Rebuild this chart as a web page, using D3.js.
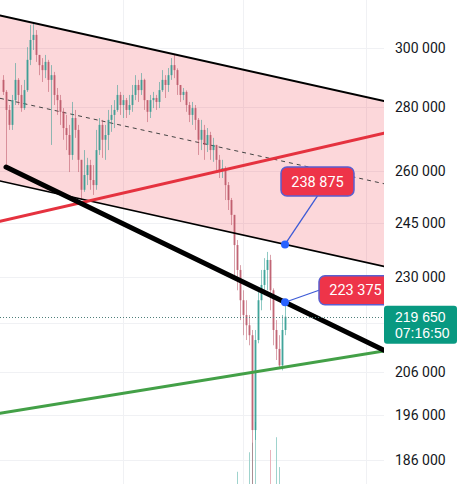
<!DOCTYPE html>
<html>
<head>
<meta charset="utf-8">
<script src="https://cdn.jsdelivr.net/npm/d3@7/dist/d3.min.js"></script>
<style>
    body { margin: 0; background: #fff; }
    svg { display: block; font-family: Roboto, "Noto Sans", sans-serif; }
</style>
</head>
<body>
<div id="graph-placeholder"></div>
<script>

// candles in thousands, open of each candle = close of previous one
var firstOpen = 289.1;
var closes = [285.1, 279.2, 274.4, 282.4, 289.1, 284.1, 279.8, 285.7, 295.9, 302.8,
    304.6, 297.6, 294.1, 292.4, 295.2, 289.1, 290.7, 284.1, 282.4, 278.6,
    273.4, 271.2, 265.0, 276.6, 272.8, 263.5, 254.5, 258.9, 261.9, 257.4,
    255.9, 266.5, 274.4, 269.7, 271.2, 276.0, 277.6, 279.2, 284.1, 280.8,
    282.4, 279.2, 280.8, 284.1, 287.4, 285.7, 289.1, 282.4, 278.6, 282.4,
    283.1, 281.8, 285.7, 289.1, 287.4, 290.7, 294.1, 292.4, 287.4, 284.1,
    285.1, 280.8, 277.6, 279.8, 276.0, 269.7, 272.8, 268.1, 271.2, 266.5,
    268.1, 263.5, 260.4, 261.0, 255.9, 251.5, 247.2, 238.7, 231.9, 223.9,
    220.1, 217.5, 215.0, 192.6, 213.8, 223.9, 227.9, 231.9, 234.6, 226.5,
    216.3, 211.6, 207.6, 216.3, 219.65];
var highs = [290.7, 285.7, 280.8, 284.1, 294.8, 289.7, 287.4, 289.1, 300.3, 308.1,
    309.2, 306.3, 297.6, 296.5, 297.6, 295.9, 294.1, 291.8, 286.4, 284.1,
    279.8, 277.6, 274.4, 281.8, 279.2, 274.4, 263.5, 266.5, 264.1, 263.5,
    261.9, 272.8, 276.6, 276.0, 274.4, 279.2, 280.8, 282.4, 287.4, 285.1,
    284.1, 283.1, 284.1, 287.4, 290.7, 289.1, 291.4, 289.5, 282.4, 284.1,
    285.1, 284.1, 288.4, 292.4, 290.7, 293.1, 296.5, 297.6, 293.0, 287.4,
    286.4, 285.6, 281.8, 281.8, 280.8, 276.6, 276.0, 274.4, 273.4, 272.2,
    270.3, 268.1, 265.0, 263.5, 261.5, 256.8, 252.1, 247.2, 240.1, 233.2,
    226.5, 223.9, 220.1, 216.3, 216.3, 226.5, 231.9, 235.1, 236.8, 236.0,
    227.0, 218.8, 215.0, 220.1, 222.6];
var lows = [284.1, 261.3, 272.8, 272.8, 280.8, 280.8, 278.6, 279.2, 285.1, 294.1,
    299.3, 295.2, 290.7, 288.4, 289.7, 285.1, 268.1, 280.8, 277.6, 274.4,
    269.7, 266.5, 259.8, 263.5, 270.3, 259.8, 251.5, 253.9, 255.9, 254.5,
    253.0, 254.5, 265.0, 264.1, 263.5, 266.5, 272.2, 273.4, 278.6, 277.6,
    276.6, 276.6, 277.6, 278.6, 282.4, 281.8, 284.1, 279.2, 275.3, 276.6,
    279.8, 279.2, 279.8, 285.1, 283.1, 285.1, 289.1, 289.7, 284.1, 281.8,
    282.4, 278.6, 275.3, 274.4, 272.8, 265.0, 266.5, 263.5, 265.9, 263.5,
    262.9, 260.4, 258.0, 258.0, 251.5, 248.6, 244.3, 230.5, 226.5, 218.8,
    215.0, 213.8, 212.5, 180.9, 190.4, 213.0, 221.3, 225.2, 226.5, 221.3,
    212.5, 208.9, 206.9, 206.4, 215.0];

// faint wicks near the bottom: [candle index, top price, 1 = up colour]
var faintWicks = [[78, 183500, 1], [82, 187700, 1], [83, 189800, 1], [84, 194400, 1],
    [89, 188200, 0], [91, 191000, 1], [92, 184500, 1]];

// 218 000 sits under the last price badge: grid line only
var gridTicks = [186000, 196000, 206000, 218000, 230000, 245000, 260000, 280000, 300000];
var labelTicks = [186000, 196000, 206000, 230000, 245000, 260000, 280000, 300000];
var gridIndexes = [40, 80, 121];
var lastPrice = 219650, lastTime = "07:16:50";

// drawings: two anchor points [candle index, price]
var channelTop = [[-1, 311500], [127, 282100]];
var channelBottom = [[-1, 257100], [94, 238875]];
var redLine = [[-1, 245400], [127, 271800]];
var greenLine = [[-1, 196400], [127, 211100]];
var boldLine = [[1, 261300], [94, 223375]];

var priceLabels = [
    {index: 94, value: 238875, dx: 32.5, dy: -63, attach: "bottom"},
    {index: 94, value: 223375, dx: 70.5, dy: -12, attach: "left"}
];

var width = 461, height = 484,
    plotWidth = 384;

var xScale = d3.scaleLinear().domain([-1, 127]).range([0, plotWidth]);
var yScale = d3.scaleLog().domain([300000, 186000]).range([48, 460.1]);

var fmt = function (v) { return d3.format(",")(v).replace(/,/g, " "); };

var svg = d3.select("#graph-placeholder")
    .append("svg")
    .attr("width", width)
    .attr("height", height);

svg.append("defs").append("clipPath")
    .attr("id", "plotMask")
    .append("rect")
    .attr("x", 0).attr("y", 0)
    .attr("width", plotWidth).attr("height", height);

var plot = svg.append("g").attr("clip-path", "url(#plotMask)");

// grid
plot.selectAll(".hgrid")
    .data(gridTicks)
    .enter().append("line")
    .attr("x1", 0).attr("x2", plotWidth)
    .attr("y1", function (d) { return Math.round(yScale(d)) + 0.5; })
    .attr("y2", function (d) { return Math.round(yScale(d)) + 0.5; })
    .attr("stroke", "#f0f1f4");

plot.selectAll(".vgrid")
    .data(gridIndexes)
    .enter().append("line")
    .attr("x1", function (d) { return Math.round(xScale(d)) + 0.5; })
    .attr("x2", function (d) { return Math.round(xScale(d)) + 0.5; })
    .attr("y1", 0).attr("y2", height)
    .attr("stroke", "#f0f1f4");

// turn two anchors into a pixel segment stretched from xFrom to xTo
var segment = function (pts, xFrom, xTo) {
    var x0 = xScale(pts[0][0]), y0 = yScale(pts[0][1]),
        x1 = xScale(pts[1][0]), y1 = yScale(pts[1][1]),
        k = (y1 - y0) / (x1 - x0);
    var a = xFrom === undefined ? x0 : xFrom;
    return [[a, y0 + k * (a - x0)], [xTo, y0 + k * (xTo - x0)]];
};

var top_ = segment(channelTop, 0, plotWidth),
    bottom_ = segment(channelBottom, 0, plotWidth),
    middle_ = [
        [0, (top_[0][1] + bottom_[0][1]) / 2],
        [plotWidth, (top_[1][1] + bottom_[1][1]) / 2]
    ];

// channel fill
plot.append("path")
    .attr("d", d3.line()([top_[0], top_[1], bottom_[1], bottom_[0]]) + "Z")
    .attr("fill", "rgba(242,54,69,0.2)");

plot.append("path")
    .attr("d", d3.line()(middle_))
    .attr("stroke", "#444")
    .attr("stroke-width", 1)
    .attr("stroke-dasharray", "4,4")
    .attr("fill", "none");

// candles
var candles = closes.map(function (c, i) {
    var o = i === 0 ? firstOpen : closes[i - 1];
    return {
        i: i, o: o * 1000, c: c * 1000,
        h: Math.max(highs[i], o, c) * 1000,
        l: Math.min(lows[i], o, c) * 1000
    };
});
var upColor = "#1f968a", downColor = "#b64a5c";

plot.selectAll(".faint")
    .data(faintWicks)
    .enter().append("line")
    .attr("x1", function (d) { return Math.round(xScale(d[0])) + 0.5; })
    .attr("x2", function (d) { return Math.round(xScale(d[0])) + 0.5; })
    .attr("y1", function (d) { return yScale(d[1]); })
    .attr("y2", height)
    .attr("stroke", function (d) { return d[2] ? "#9fd3cd" : "#eab3bb"; })
    .attr("stroke-width", 1);

plot.selectAll(".wick")
    .data(candles)
    .enter().append("line")
    .attr("x1", function (d) { return Math.round(xScale(d.i)) + 0.5; })
    .attr("x2", function (d) { return Math.round(xScale(d.i)) + 0.5; })
    .attr("y1", function (d) { return yScale(d.h); })
    .attr("y2", function (d) { return yScale(d.l); })
    .attr("stroke", function (d) { return d.c >= d.o ? upColor : downColor; })
    .attr("stroke-opacity", 0.5);

plot.selectAll(".body")
    .data(candles)
    .enter().append("rect")
    .attr("x", function (d) { return Math.round(xScale(d.i)) - 0.5; })
    .attr("width", 2)
    .attr("y", function (d) { return Math.min(yScale(d.o), yScale(d.c)); })
    .attr("height", function (d) { return Math.max(1, Math.abs(yScale(d.o) - yScale(d.c))); })
    .attr("fill", function (d) { return d.c >= d.o ? upColor : downColor; })
    .attr("fill-opacity", 0.7);

// trend lines
var drawLine = function (seg, color, w) {
    plot.append("path")
        .attr("d", d3.line()(seg))
        .attr("stroke", color)
        .attr("stroke-width", w)
        .attr("stroke-linecap", "round")
        .attr("fill", "none");
};
drawLine(top_, "#000", 2);
drawLine(bottom_, "#000", 1.6);
drawLine(segment(redLine, 0, plotWidth), "#e5323f", 3);
drawLine(segment(greenLine, 0, plotWidth), "#43a047", 3);
drawLine(segment(boldLine, undefined, plotWidth), "#000", 5);

// last price line
plot.append("line")
    .attr("x1", 0).attr("x2", plotWidth)
    .attr("y1", Math.round(yScale(lastPrice)) + 0.5)
    .attr("y2", Math.round(yScale(lastPrice)) + 0.5)
    .attr("stroke", "#4f7f7a")
    .attr("stroke-dasharray", "1,2");

// price callouts
priceLabels.forEach(function (p) {
    var px = xScale(p.index), py = yScale(p.value),
        bw = 73, bh = 29,
        cx = px + p.dx, cy = py + p.dy,
        ax = p.attach === "bottom" ? cx : cx - bw / 2,
        ay = p.attach === "bottom" ? cy + bh / 2 : cy;

    plot.append("line")
        .attr("x1", px).attr("y1", py)
        .attr("x2", ax).attr("y2", ay)
        .attr("stroke", "#3d5bd6")
        .attr("stroke-width", 1.3);

    plot.append("rect")
        .attr("x", cx - bw / 2).attr("y", cy - bh / 2)
        .attr("width", bw).attr("height", bh)
        .attr("rx", 6)
        .attr("fill", "#ee3449")
        .attr("stroke", "#5a5fd0")
        .attr("stroke-width", 1.5);

    plot.append("text")
        .attr("x", cx).attr("y", cy)
        .attr("dy", "0.36em")
        .attr("text-anchor", "middle")
        .attr("fill", "#fff")
        .style("font-size", "14.5px")
        .text(fmt(p.value));

    plot.append("circle")
        .attr("cx", px).attr("cy", py)
        .attr("r", 4)
        .attr("fill", "#2962ff");
});

// price axis
var axis = svg.append("g")
    .attr("transform", "translate(" + plotWidth + ",0)");

axis.append("rect")
    .attr("width", width - plotWidth).attr("height", height)
    .attr("fill", "#fff");

axis.call(d3.axisRight(yScale)
        .tickValues(labelTicks)
        .tickSize(0)
        .tickPadding(11)
        .tickFormat(fmt))
    .call(function (g) { g.select(".domain").remove(); })
    .selectAll("text")
    .attr("fill", "#131722")
    .style("font-size", "14px")
    .style("font-family", "Roboto, sans-serif");

var ly = yScale(lastPrice);
axis.append("rect")
    .attr("x", 0).attr("y", ly - 11)
    .attr("width", 73).attr("height", 38)
    .attr("rx", 3)
    .attr("fill", "#089981");

axis.append("text")
    .attr("x", 11).attr("y", ly)
    .attr("dy", "0.36em")
    .attr("fill", "#fff")
    .style("font-size", "14px")
    .text(fmt(lastPrice));

axis.append("text")
    .attr("x", 11).attr("y", ly + 16)
    .attr("dy", "0.36em")
    .attr("fill", "#fff")
    .style("font-size", "14px")
    .text(lastTime);

</script>
</body>
</html>
